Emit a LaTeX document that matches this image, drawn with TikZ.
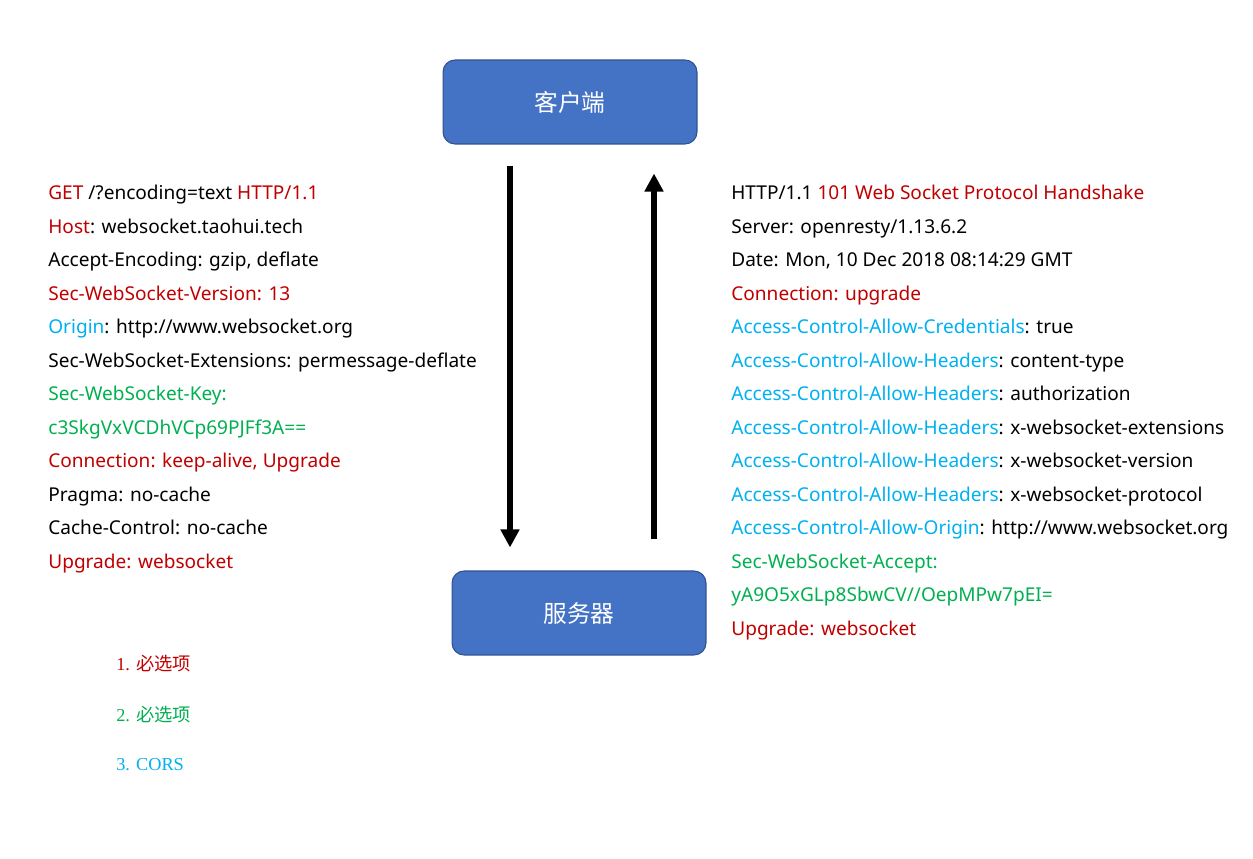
\documentclass[tikz,border=0pt]{standalone}
\usepackage{fontspec}
\setmainfont{Noto Sans}
\newfontfamily\cjk{Noto Sans CJK SC}
\newfontfamily\legendfont{Liberation Serif}
\usepackage{tikz}
\usetikzlibrary{arrows.meta,positioning}
\definecolor{hdrred}{HTML}{C00000}
\definecolor{hdrcyan}{HTML}{00B0F0}
\definecolor{hdrgreen}{HTML}{00B050}
\definecolor{boxblue}{HTML}{4472C4}
\definecolor{boxedge}{HTML}{2F528F}
\newcommand{\hred}[1]{\textcolor{hdrred}{#1}}
\newcommand{\hcyan}[1]{\textcolor{hdrcyan}{#1}}
\newcommand{\hgreen}[1]{\textcolor{hdrgreen}{#1}}
\tikzset{
  flow/.style={-{Triangle[length=3.6mm, width=3.6mm]}, line width=3.4pt},
  endpoint/.style={draw=boxedge, fill=boxblue, rounded corners=2.4mm, line width=0.6pt,
    minimum width=5.08cm, minimum height=1.68cm, text=white, font=\cjk\fontsize{13.5}{16}\selectfont},
  headers/.style={align=left, anchor=base west, inner sep=0pt, font=\fontsize{10.85}{19.05}\selectfont},
  legend/.style={anchor=base west, inner sep=0pt, font=\legendfont\fontsize{10.4}{12}\selectfont}
}
\begin{document}
\begin{tikzpicture}[x=0.02cm, y=-0.02cm]
  \useasboundingbox (0,0) rectangle (1253,858);
  \node[endpoint] (client) at (570,102) {客户端};
  \node[endpoint] (server) at (579,613) {服务器};
  \coordinate (down) at (510,0);
  \coordinate (up) at (654,0);
  \draw[flow, shorten <=0.42cm, shorten >=0.46cm] (client.south -| down) -- (server.north -| down);
  \draw[flow, shorten <=0.62cm, shorten >=0.58cm] (server.north -| up) -- (client.south -| up);
  \node[headers] (request) at (48,568) {%
    \hred{GET} /?encoding=text \hred{HTTP/1.1}\\
    \hred{Host}: websocket.taohui.tech\\
    Accept-Encoding: gzip, deflate\\
    \hred{Sec-WebSocket-Version: 13}\\
    \hcyan{Origin}: http://www.websocket.org\\
    Sec-WebSocket-Extensions: permessage-deflate\\
    \hgreen{Sec-WebSocket-Key:}\\
    \hgreen{c3SkgVxVCDhVCp69PJFf3A==}\\
    \hred{Connection: keep-alive, Upgrade}\\
    Pragma: no-cache\\
    Cache-Control: no-cache\\
    \hred{Upgrade: websocket}};
  \node[headers] (response) at (731,635) {%
    HTTP/1.1 \hred{101 Web Socket Protocol Handshake}\\
    Server: openresty/1.13.6.2\\
    Date: Mon, 10 Dec 2018 08:14:29 GMT\\
    \hred{Connection: upgrade}\\
    \hcyan{Access-Control-Allow-Credentials}: true\\
    \hcyan{Access-Control-Allow-Headers}: content-type\\
    \hcyan{Access-Control-Allow-Headers}: authorization\\
    \hcyan{Access-Control-Allow-Headers}: x-websocket-extensions\\
    \hcyan{Access-Control-Allow-Headers}: x-websocket-version\\
    \hcyan{Access-Control-Allow-Headers}: x-websocket-protocol\\
    \hcyan{Access-Control-Allow-Origin}: http://www.websocket.org\\
    \hgreen{Sec-WebSocket-Accept:}\\
    \hgreen{yA9O5xGLp8SbwCV//OepMPw7pEI=}\\
    \hred{Upgrade: websocket}};
  \node[legend, text=hdrred] (must1) at (116,670) {1. {\cjk 必选项}};
  \node[legend, text=hdrgreen] (must2) at (116,721) {2. {\cjk 必选项}};
  \node[legend, text=hdrcyan] (cors) at (116,770) {3. CORS};
\end{tikzpicture}
\end{document}
